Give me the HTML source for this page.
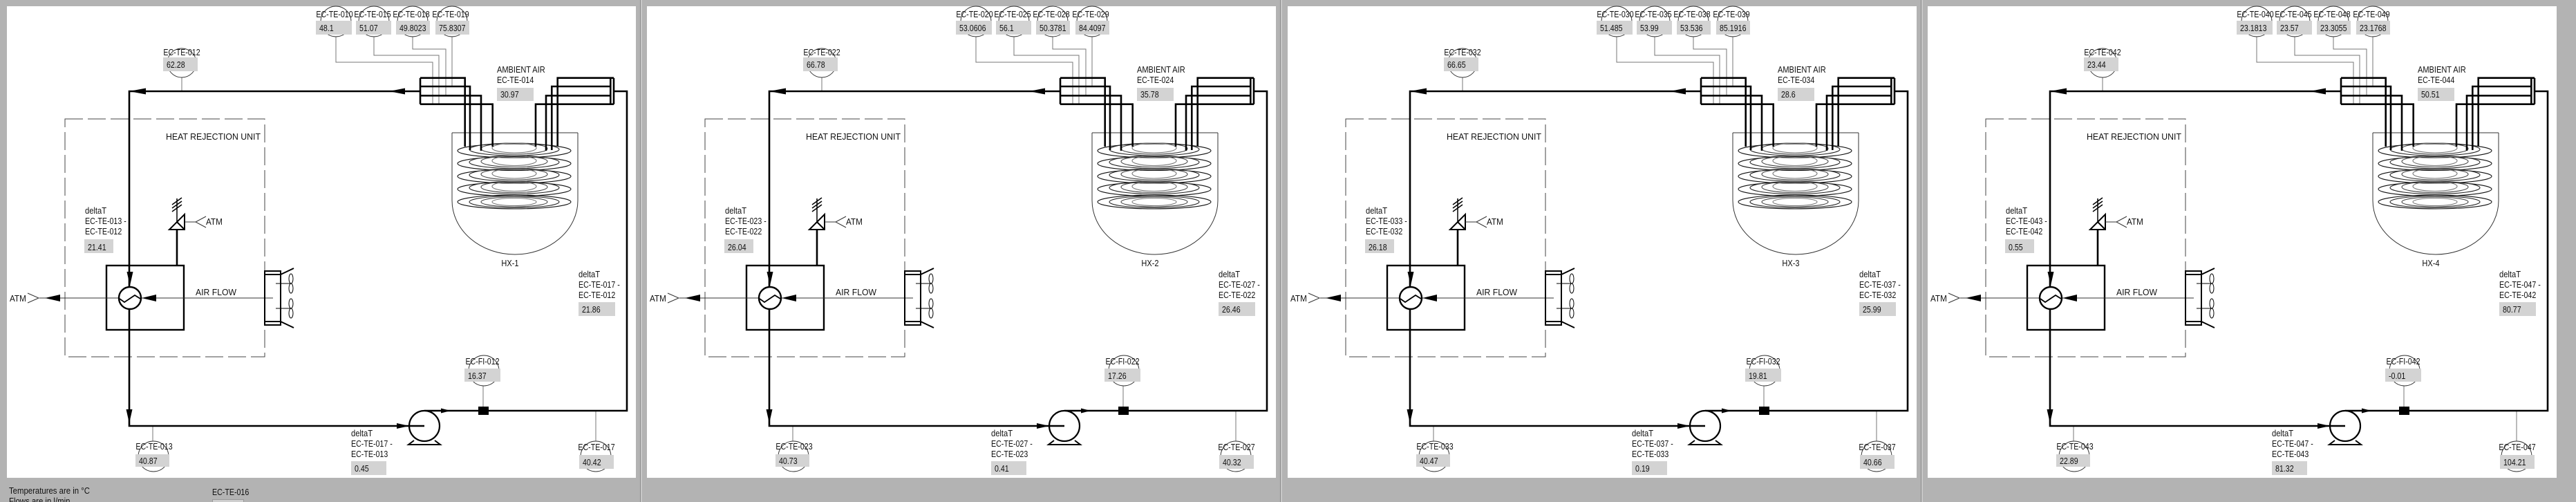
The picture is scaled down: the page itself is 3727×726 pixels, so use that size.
<!DOCTYPE html>
<html>
<head>
<meta charset="utf-8">
<style>
html,body{margin:0;padding:0;background:#b3b3b3;}
svg{display:block;}
.t{font-family:"Liberation Sans",Arial,sans-serif;font-size:13px;fill:#111;}
</style>
</head>
<body>
<svg xmlns="http://www.w3.org/2000/svg" width="3727" height="726" viewBox="0 0 3727 726">
<defs>
<g id="base">
  <rect x="10" y="9" width="910" height="682" fill="#fff"/>
  <rect x="94" y="172" width="289" height="344" fill="none" stroke="#444" stroke-width="1" stroke-dasharray="26 7"/>
  <!-- vessel -->
  <path d="M654,192H836M654,192V290A91,78 0 0 0 836,290V192" fill="none" stroke="#333" stroke-width="1"/>
  <!-- coils -->
  <g fill="none" stroke-width="1.1">
    <g stroke="#111">
      <ellipse cx="744" cy="218" rx="82" ry="10"/><ellipse cx="744" cy="236.5" rx="82" ry="10"/><ellipse cx="744" cy="255" rx="82" ry="10"/><ellipse cx="744" cy="273.5" rx="82" ry="10"/><ellipse cx="744" cy="292" rx="82" ry="10"/>
    </g>
    <g stroke="#222">
      <ellipse cx="744" cy="216" rx="65" ry="9"/><ellipse cx="744" cy="234.5" rx="65" ry="9"/><ellipse cx="744" cy="253" rx="65" ry="9"/><ellipse cx="744" cy="271.5" rx="65" ry="9"/><ellipse cx="744" cy="292" rx="65" ry="8.5"/>
    </g>
    <g stroke="#444">
      <ellipse cx="744" cy="215" rx="48" ry="8"/><ellipse cx="744" cy="233.5" rx="48" ry="8"/><ellipse cx="744" cy="252" rx="48" ry="8"/><ellipse cx="744" cy="270.5" rx="48" ry="8"/><ellipse cx="744" cy="292" rx="48" ry="7"/>
    </g>
    <g stroke="#777">
      <ellipse cx="744" cy="214" rx="32" ry="7"/><ellipse cx="744" cy="232.5" rx="32" ry="7"/><ellipse cx="744" cy="251" rx="32" ry="7"/><ellipse cx="744" cy="269.5" rx="32" ry="7"/><ellipse cx="744" cy="292" rx="32" ry="5.5"/>
    </g>
  </g>
  <!-- sensor leader lines -->
  <path d="M486,53V90H626V150M541,53V80H635V150M597,53V71H645V138M654,53V125M263,112V132M699,558V588M221,616V638M862,594V638" fill="none" stroke="#777" stroke-width="1"/>
  <!-- thick pipes -->
  <g fill="none" stroke="#000" stroke-width="2.6">
    <path d="M608,132H187V616H592"/>
    <path d="M614,594H907V132H888"/>
    <path d="M608,112.7V150.7M608,112.7H672.7V212M608,125H680V217M608,138.3H696V218M608,150.7H712.7V212"/>
    <path d="M888,112.7V150.7M883.3,112.7V150.7M888,112.7H806.7V212M883.3,125H798.3V217M883.3,138.3H790V218M888,150.7H775V212"/>
    <path d="M256,384V332"/>
  </g>
  <!-- heat exchanger -->
  <rect x="154" y="384" width="112" height="93" fill="none" stroke="#000" stroke-width="2.4"/>
  <path d="M57,431H395" stroke="#333" stroke-width="1"/>
  <circle cx="188" cy="431" r="16" fill="#fff" stroke="#000" stroke-width="2.4"/>
  <polyline points="173,432 180,437 195,427 203,432" fill="none" stroke="#000" stroke-width="1.8"/>
  <!-- relief valve -->
  <path d="M245,332H267V310ZM256,321L267,332" fill="none" stroke="#000" stroke-width="2"/>
  <path d="M256,321V287M249,306L263,296M249,301L263,291M249,296L263,286" fill="none" stroke="#000" stroke-width="1.5"/>
  <path d="M267,321H283M298,313L283,321L298,329" fill="none" stroke="#333" stroke-width="1"/>
  <path d="M40,424L56,431L40,438" fill="none" stroke="#333" stroke-width="1"/>
  <!-- fan -->
  <g stroke="#000" stroke-width="2" fill="none">
    <rect x="383" y="392" width="23" height="78"/>
    <path d="M383,397H406M383,465H406M406,397L425,388M406,465L425,474"/>
  </g>
  <g stroke="#000" stroke-width="1" fill="none">
    <path d="M399,410H421M399,446H421"/>
    <ellipse cx="421" cy="403" rx="3" ry="7"/><ellipse cx="421" cy="417" rx="3" ry="7"/>
    <ellipse cx="421" cy="439" rx="3" ry="7"/><ellipse cx="421" cy="453" rx="3" ry="7"/>
  </g>
  <!-- pump -->
  <circle cx="614" cy="616" r="22" fill="#fff" stroke="#000" stroke-width="2.2"/>
  <path d="M592,616H614" stroke="#000" stroke-width="2.6"/>
  <path d="M599,637L591,643H637L629,637" fill="none" stroke="#000" stroke-width="2"/>
  <rect x="692" y="588" width="15" height="12" fill="#000"/>
  <!-- arrows -->
  <g fill="#000">
    <polygon points="187,132 211,127.5 211,136.5"/>
    <polygon points="563,132 586,127.5 586,136.5"/>
    <polygon points="188,413 183.5,393 192.5,393"/>
    <polygon points="187,612 182.5,592 191.5,592"/>
    <polygon points="592,616 574,612 574,620"/>
    <polygon points="652,594 638,590.5 638,597.5"/>
    <polygon points="205,431 226,426 226,436"/>
    <polygon points="65,431 87,426 87,436"/>
  </g>
  <!-- sensor circles -->
  <g fill="none" stroke="#333" stroke-width="0.9">
    <circle cx="486" cy="31" r="22"/><circle cx="541" cy="31" r="22"/><circle cx="597" cy="31" r="22"/><circle cx="654" cy="31" r="22"/>
    <circle cx="263" cy="91" r="21"/><circle cx="700" cy="536" r="22"/><circle cx="222" cy="660" r="22"/><circle cx="862" cy="660" r="22"/>
  </g>
  <!-- value boxes -->
  <g fill="#d3d3d3">
    <rect x="457" y="30" width="52" height="20"/><rect x="515" y="30" width="51" height="20"/><rect x="573" y="30" width="49" height="20"/><rect x="630" y="30" width="49" height="20"/>
    <rect x="236" y="83" width="50" height="20"/>
    <rect x="719" y="127" width="53" height="19"/>
    <rect x="122" y="346" width="42" height="20"/>
    <rect x="837" y="437" width="53" height="20"/>
    <rect x="672" y="533" width="52" height="19"/>
    <rect x="196" y="657" width="49" height="18"/>
    <rect x="508" y="667" width="51" height="20"/>
    <rect x="838" y="658" width="50" height="20"/>
  </g>
</g>
</defs>

<rect x="0" y="0" width="3727" height="726" fill="#b3b3b3"/>
<rect x="926" y="0" width="1" height="726" fill="#8c8c8c"/><rect x="927.5" y="0" width="1" height="726" fill="#dcdcdc"/>
<rect x="1852" y="0" width="1" height="726" fill="#8c8c8c"/><rect x="1853.5" y="0" width="1" height="726" fill="#dcdcdc"/>
<rect x="2779" y="0" width="1" height="726" fill="#8c8c8c"/><rect x="2780.5" y="0" width="1" height="726" fill="#dcdcdc"/>

<!-- PANEL 1 -->
<g transform="translate(0 0)">
<use href="#base"/>
<g class="t">
<text transform="translate(484 25) scale(.82 1)" text-anchor="middle">EC-TE-010</text>
<text transform="translate(539 25) scale(.82 1)" text-anchor="middle">EC-TE-015</text>
<text transform="translate(595 25) scale(.82 1)" text-anchor="middle">EC-TE-018</text>
<text transform="translate(652 25) scale(.82 1)" text-anchor="middle">EC-TE-019</text>
<text transform="translate(462 45) scale(.82 1)">48.1</text>
<text transform="translate(520 45) scale(.82 1)">51.07</text>
<text transform="translate(578 45) scale(.82 1)">49.8023</text>
<text transform="translate(635 45) scale(.82 1)">75.8307</text>
<text transform="translate(263 80) scale(.82 1)" text-anchor="middle">EC-TE-012</text>
<text transform="translate(241 98) scale(.82 1)">62.28</text>
<text transform="translate(719 105) scale(.85 1)">AMBIENT AIR</text>
<text transform="translate(719 120) scale(.82 1)">EC-TE-014</text>
<text transform="translate(724 141) scale(.82 1)">30.97</text>
<text x="240" y="202" textLength="137" lengthAdjust="spacingAndGlyphs">HEAT REJECTION UNIT</text>
<text transform="translate(123 309) scale(.86 1)">deltaT</text>
<text transform="translate(123 324) scale(.82 1)">EC-TE-013 -</text>
<text transform="translate(123 339) scale(.82 1)">EC-TE-012</text>
<text transform="translate(127 362) scale(.82 1)">21.41</text>
<text transform="translate(298 325) scale(.9 1)">ATM</text>
<text transform="translate(14 436) scale(.9 1)">ATM</text>
<text x="283" y="427" textLength="59" lengthAdjust="spacingAndGlyphs">AIR FLOW</text>
<text transform="translate(738 385) scale(.85 1)" text-anchor="middle">HX-1</text>
<text transform="translate(837 401) scale(.86 1)">deltaT</text>
<text transform="translate(837 416) scale(.82 1)">EC-TE-017 -</text>
<text transform="translate(837 431) scale(.82 1)">EC-TE-012</text>
<text transform="translate(842 452) scale(.82 1)">21.86</text>
<text transform="translate(698 527) scale(.82 1)" text-anchor="middle">EC-FI-012</text>
<text transform="translate(677 548) scale(.82 1)">16.37</text>
<text transform="translate(223 650) scale(.82 1)" text-anchor="middle">EC-TE-013</text>
<text transform="translate(201 671) scale(.82 1)">40.87</text>
<text transform="translate(508 631) scale(.86 1)">deltaT</text>
<text transform="translate(508 646) scale(.82 1)">EC-TE-017 -</text>
<text transform="translate(508 661) scale(.82 1)">EC-TE-013</text>
<text transform="translate(513 682) scale(.82 1)">0.45</text>
<text transform="translate(863 651) scale(.82 1)" text-anchor="middle">EC-TE-017</text>
<text transform="translate(843 673) scale(.82 1)">40.42</text>
</g>
</g>

<!-- PANEL 2 -->
<g transform="translate(926 0)">
<use href="#base"/>
<g class="t">
<text transform="translate(484 25) scale(.82 1)" text-anchor="middle">EC-TE-020</text>
<text transform="translate(539 25) scale(.82 1)" text-anchor="middle">EC-TE-025</text>
<text transform="translate(595 25) scale(.82 1)" text-anchor="middle">EC-TE-028</text>
<text transform="translate(652 25) scale(.82 1)" text-anchor="middle">EC-TE-029</text>
<text transform="translate(462 45) scale(.82 1)">53.0606</text>
<text transform="translate(520 45) scale(.82 1)">56.1</text>
<text transform="translate(578 45) scale(.82 1)">50.3781</text>
<text transform="translate(635 45) scale(.82 1)">84.4097</text>
<text transform="translate(263 80) scale(.82 1)" text-anchor="middle">EC-TE-022</text>
<text transform="translate(241 98) scale(.82 1)">66.78</text>
<text transform="translate(719 105) scale(.85 1)">AMBIENT AIR</text>
<text transform="translate(719 120) scale(.82 1)">EC-TE-024</text>
<text transform="translate(724 141) scale(.82 1)">35.78</text>
<text x="240" y="202" textLength="137" lengthAdjust="spacingAndGlyphs">HEAT REJECTION UNIT</text>
<text transform="translate(123 309) scale(.86 1)">deltaT</text>
<text transform="translate(123 324) scale(.82 1)">EC-TE-023 -</text>
<text transform="translate(123 339) scale(.82 1)">EC-TE-022</text>
<text transform="translate(127 362) scale(.82 1)">26.04</text>
<text transform="translate(298 325) scale(.9 1)">ATM</text>
<text transform="translate(14 436) scale(.9 1)">ATM</text>
<text x="283" y="427" textLength="59" lengthAdjust="spacingAndGlyphs">AIR FLOW</text>
<text transform="translate(738 385) scale(.85 1)" text-anchor="middle">HX-2</text>
<text transform="translate(837 401) scale(.86 1)">deltaT</text>
<text transform="translate(837 416) scale(.82 1)">EC-TE-027 -</text>
<text transform="translate(837 431) scale(.82 1)">EC-TE-022</text>
<text transform="translate(842 452) scale(.82 1)">26.46</text>
<text transform="translate(698 527) scale(.82 1)" text-anchor="middle">EC-FI-022</text>
<text transform="translate(677 548) scale(.82 1)">17.26</text>
<text transform="translate(223 650) scale(.82 1)" text-anchor="middle">EC-TE-023</text>
<text transform="translate(201 671) scale(.82 1)">40.73</text>
<text transform="translate(508 631) scale(.86 1)">deltaT</text>
<text transform="translate(508 646) scale(.82 1)">EC-TE-027 -</text>
<text transform="translate(508 661) scale(.82 1)">EC-TE-023</text>
<text transform="translate(513 682) scale(.82 1)">0.41</text>
<text transform="translate(863 651) scale(.82 1)" text-anchor="middle">EC-TE-027</text>
<text transform="translate(843 673) scale(.82 1)">40.32</text>
</g>
</g>

<!-- PANEL 3 -->
<g transform="translate(1853 0)">
<use href="#base"/>
<g class="t">
<text transform="translate(484 25) scale(.82 1)" text-anchor="middle">EC-TE-030</text>
<text transform="translate(539 25) scale(.82 1)" text-anchor="middle">EC-TE-035</text>
<text transform="translate(595 25) scale(.82 1)" text-anchor="middle">EC-TE-038</text>
<text transform="translate(652 25) scale(.82 1)" text-anchor="middle">EC-TE-039</text>
<text transform="translate(462 45) scale(.82 1)">51.485</text>
<text transform="translate(520 45) scale(.82 1)">53.99</text>
<text transform="translate(578 45) scale(.82 1)">53.536</text>
<text transform="translate(635 45) scale(.82 1)">85.1916</text>
<text transform="translate(263 80) scale(.82 1)" text-anchor="middle">EC-TE-032</text>
<text transform="translate(241 98) scale(.82 1)">66.65</text>
<text transform="translate(719 105) scale(.85 1)">AMBIENT AIR</text>
<text transform="translate(719 120) scale(.82 1)">EC-TE-034</text>
<text transform="translate(724 141) scale(.82 1)">28.6</text>
<text x="240" y="202" textLength="137" lengthAdjust="spacingAndGlyphs">HEAT REJECTION UNIT</text>
<text transform="translate(123 309) scale(.86 1)">deltaT</text>
<text transform="translate(123 324) scale(.82 1)">EC-TE-033 -</text>
<text transform="translate(123 339) scale(.82 1)">EC-TE-032</text>
<text transform="translate(127 362) scale(.82 1)">26.18</text>
<text transform="translate(298 325) scale(.9 1)">ATM</text>
<text transform="translate(14 436) scale(.9 1)">ATM</text>
<text x="283" y="427" textLength="59" lengthAdjust="spacingAndGlyphs">AIR FLOW</text>
<text transform="translate(738 385) scale(.85 1)" text-anchor="middle">HX-3</text>
<text transform="translate(837 401) scale(.86 1)">deltaT</text>
<text transform="translate(837 416) scale(.82 1)">EC-TE-037 -</text>
<text transform="translate(837 431) scale(.82 1)">EC-TE-032</text>
<text transform="translate(842 452) scale(.82 1)">25.99</text>
<text transform="translate(698 527) scale(.82 1)" text-anchor="middle">EC-FI-032</text>
<text transform="translate(677 548) scale(.82 1)">19.81</text>
<text transform="translate(223 650) scale(.82 1)" text-anchor="middle">EC-TE-033</text>
<text transform="translate(201 671) scale(.82 1)">40.47</text>
<text transform="translate(508 631) scale(.86 1)">deltaT</text>
<text transform="translate(508 646) scale(.82 1)">EC-TE-037 -</text>
<text transform="translate(508 661) scale(.82 1)">EC-TE-033</text>
<text transform="translate(513 682) scale(.82 1)">0.19</text>
<text transform="translate(863 651) scale(.82 1)" text-anchor="middle">EC-TE-037</text>
<text transform="translate(843 673) scale(.82 1)">40.66</text>
</g>
</g>

<!-- PANEL 4 -->
<g transform="translate(2779 0)">
<use href="#base"/>
<g class="t">
<text transform="translate(484 25) scale(.82 1)" text-anchor="middle">EC-TE-040</text>
<text transform="translate(539 25) scale(.82 1)" text-anchor="middle">EC-TE-045</text>
<text transform="translate(595 25) scale(.82 1)" text-anchor="middle">EC-TE-048</text>
<text transform="translate(652 25) scale(.82 1)" text-anchor="middle">EC-TE-049</text>
<text transform="translate(462 45) scale(.82 1)">23.1813</text>
<text transform="translate(520 45) scale(.82 1)">23.57</text>
<text transform="translate(578 45) scale(.82 1)">23.3055</text>
<text transform="translate(635 45) scale(.82 1)">23.1768</text>
<text transform="translate(263 80) scale(.82 1)" text-anchor="middle">EC-TE-042</text>
<text transform="translate(241 98) scale(.82 1)">23.44</text>
<text transform="translate(719 105) scale(.85 1)">AMBIENT AIR</text>
<text transform="translate(719 120) scale(.82 1)">EC-TE-044</text>
<text transform="translate(724 141) scale(.82 1)">50.51</text>
<text x="240" y="202" textLength="137" lengthAdjust="spacingAndGlyphs">HEAT REJECTION UNIT</text>
<text transform="translate(123 309) scale(.86 1)">deltaT</text>
<text transform="translate(123 324) scale(.82 1)">EC-TE-043 -</text>
<text transform="translate(123 339) scale(.82 1)">EC-TE-042</text>
<text transform="translate(127 362) scale(.82 1)">0.55</text>
<text transform="translate(298 325) scale(.9 1)">ATM</text>
<text transform="translate(14 436) scale(.9 1)">ATM</text>
<text x="283" y="427" textLength="59" lengthAdjust="spacingAndGlyphs">AIR FLOW</text>
<text transform="translate(738 385) scale(.85 1)" text-anchor="middle">HX-4</text>
<text transform="translate(837 401) scale(.86 1)">deltaT</text>
<text transform="translate(837 416) scale(.82 1)">EC-TE-047 -</text>
<text transform="translate(837 431) scale(.82 1)">EC-TE-042</text>
<text transform="translate(842 452) scale(.82 1)">80.77</text>
<text transform="translate(698 527) scale(.82 1)" text-anchor="middle">EC-FI-042</text>
<text transform="translate(677 548) scale(.82 1)">-0.01</text>
<text transform="translate(223 650) scale(.82 1)" text-anchor="middle">EC-TE-043</text>
<text transform="translate(201 671) scale(.82 1)">22.89</text>
<text transform="translate(508 631) scale(.86 1)">deltaT</text>
<text transform="translate(508 646) scale(.82 1)">EC-TE-047 -</text>
<text transform="translate(508 661) scale(.82 1)">EC-TE-043</text>
<text transform="translate(513 682) scale(.82 1)">81.32</text>
<text transform="translate(863 651) scale(.82 1)" text-anchor="middle">EC-TE-047</text>
<text transform="translate(843 673) scale(.82 1)">104.21</text>
</g>
</g>

<!-- footer -->
<g class="t">
<text transform="translate(13 714) scale(.875 1)">Temperatures are in °C</text>
<text transform="translate(13 729) scale(.875 1)">Flows are in l/min</text>
<text transform="translate(307 716) scale(.82 1)">EC-TE-016</text>
</g>
<rect x="307.5" y="722.5" width="45" height="10" fill="#cfcfcf" stroke="#999" stroke-width="1"/>
</svg>
</body>
</html>
